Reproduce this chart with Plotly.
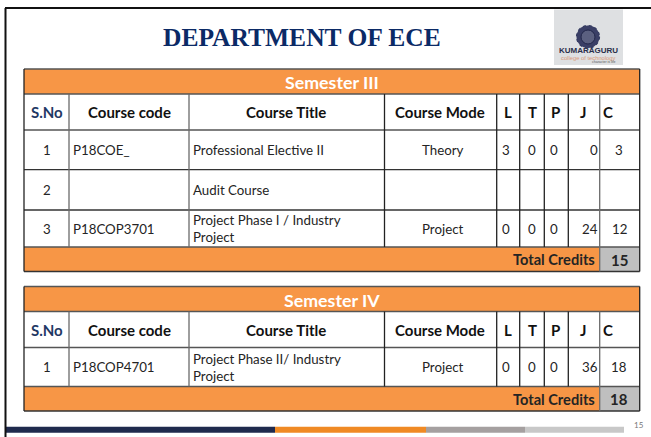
import plotly.graph_objects as go

TITLE = "DEPARTMENT OF ECE"
HEADERS = ["S.No", "Course code", "Course Title", "Course Mode", "L", "T", "P", "J", "C"]
SEM3_NAME = "Semester III"
SEM3_SNO = ["1", "2", "3"]
SEM3_CODE = ["P18COE_", "", "P18COP3701"]
SEM3_TITLE = ["Professional Elective II", "Audit Course", "Project Phase I / Industry<br>Project"]
SEM3_MODE = ["Theory", "", "Project"]
SEM3_L = ["3", "", "0"]
SEM3_T = ["0", "", "0"]
SEM3_P = ["0", "", "0"]
SEM3_J = ["0", "", "24"]
SEM3_C = ["3", "", "12"]
SEM3_TOTAL = "15"
SEM4_NAME = "Semester IV"
SEM4_SNO = ["1"]
SEM4_CODE = ["P18COP4701"]
SEM4_TITLE = ["Project Phase II/ Industry<br>Project"]
SEM4_MODE = ["Project"]
SEM4_L = ["0"]
SEM4_T = ["0"]
SEM4_P = ["0"]
SEM4_J = ["36"]
SEM4_C = ["18"]
SEM4_TOTAL = "18"
TOTAL_LABEL = "Total Credits"

ORANGE = "#F79646"
BODY = "Lato, Carlito, Calibri, sans-serif"
COLS = [24, 69, 189, 384.5, 496.7, 519.7, 544.3, 568.3, 599.7, 639.7]
GREY_COLS = {69, 189, 599.7}
HEAD_X = [46.5, 129, 286, 440, 508, 532, 555.6, 583, 608]

shapes, ann = [], []


def rect(x0, y0, x1, y1, fill, line=None, w=0):
    shapes.append(dict(type="rect", x0=x0, y0=y0, x1=x1, y1=y1, fillcolor=fill,
                       line=dict(color=line or fill, width=w), layer="below"))


def hline(y, x0, x1, c="#222222", w=1.3):
    shapes.append(dict(type="line", x0=x0, x1=x1, y0=y, y1=y, line=dict(color=c, width=w)))


def vline(x, y0, y1, c="#222222", w=1.3):
    shapes.append(dict(type="line", x0=x, x1=x, y0=y0, y1=y1, line=dict(color=c, width=w)))


def text(x, y, s, size=13.3, color="#242424", bold=False, anchor="center", family=BODY):
    if not s:
        return
    ann.append(dict(x=x, y=y, text=f"<b>{s}</b>" if bold else s, showarrow=False, xanchor=anchor,
                    yanchor="middle", align="left" if anchor == "left" else "center",
                    font=dict(family=family, size=size, color=color), xshift=0, yshift=0,
                    borderpad=0, borderwidth=0))


def table(top, name, rows_y, sno, code, ctitle, mode, l, t, p, j, c, total):
    band, head = top + 25, top + 61
    bottom_rows = rows_y[-1]
    foot = bottom_rows + 24.5
    rect(COLS[0], top, COLS[-1], band, ORANGE)
    rect(COLS[0], bottom_rows, COLS[-2], foot, ORANGE)
    rect(COLS[-2], bottom_rows, COLS[-1], foot, "#BFBFBF")
    text(332, top + 13, name, size=17.8, color="white", bold=True)
    for h, x in zip(HEADERS, HEAD_X):
        text(x, band + 18, h, size=15, bold=True, color="#1F3864" if h == "S.No" else "#111111")
    ys = [head] + rows_y
    for i in range(len(sno)):
        yc = (ys[i] + ys[i + 1]) / 2
        text(46.5, yc, sno[i])
        text(73, yc, code[i], anchor="left")
        text(193, yc, ctitle[i], anchor="left")
        text(442.5, yc, mode[i])
        text(505.7, yc, l[i])
        text(532, yc, t[i])
        text(553.7, yc, p[i])
        text(598, yc, j[i], anchor="right")
        text(619, yc, c[i])
    text(595, bottom_rows + 12.5, TOTAL_LABEL, size=14.6, bold=True)
    ann[-1].update(xanchor="right")
    text(619, bottom_rows + 12.5, total, size=15, bold=True)
    for y in [top, band, head] + rows_y + [foot]:
        hline(y, COLS[0], COLS[-1], c="#555555" if y in (top, band, head) or y == rows_y[-1] else "#333333")
    for x in COLS:
        y1 = foot if x in (COLS[0], COLS[-2], COLS[-1]) else bottom_rows
        vline(x, top if x in (COLS[0], COLS[-1]) else band, y1, c="#6a6a6a" if x in GREY_COLS else "#222222")


# slide frame
hline(8, 5, 651, c="#111111", w=2)
vline(5.5, 8, 437, c="#111111", w=2)

# footer bar
rect(6, 426.7, 275, 432.7, "#1F2A4D")
rect(275, 426.7, 426, 432.7, "#F08A24")
rect(426, 426.7, 525, 432.7, "#A5A0A0")
rect(525, 426.7, 624, 432.7, "#C8C8C8")
text(639, 425, "15", size=8, color="#777777")

# title
text(302, 37, TITLE, size=25.5, color="#0B2A66", bold=True, family="Liberation Serif, serif")

# logo
rect(554, 9.5, 623, 65, "#DEE0E2")
shapes.append(dict(type="circle", x0=576.5, x1=599.5, y0=25.5, y1=48, fillcolor="#3A3F66",
                   line=dict(color="#333A60", width=1.2, dash="dot")))
shapes.append(dict(type="circle", x0=581, x1=595, y0=30, y1=44, fillcolor="#5B6080",
                   line=dict(color="#22274A", width=1)))
rect(584, 33, 592, 40, "#D8D9DE", "#22274A", 0.8)
text(588.5, 50.5, "KUMARAGURU", size=8, color="#2A2F4A", bold=True, family="Liberation Sans, sans-serif")
text(588.5, 57.5, "college of technology", size=5.8, color="#D99A7A", family="Liberation Sans, sans-serif")
text(604, 62, "character is life", size=3.5, color="#555555", family="Liberation Sans, sans-serif")

table(69, SEM3_NAME, [169.7, 210, 247], SEM3_SNO, SEM3_CODE, SEM3_TITLE, SEM3_MODE,
      SEM3_L, SEM3_T, SEM3_P, SEM3_J, SEM3_C, SEM3_TOTAL)
table(286.5, SEM4_NAME, [386.5], SEM4_SNO, SEM4_CODE, SEM4_TITLE, SEM4_MODE,
      SEM4_L, SEM4_T, SEM4_P, SEM4_J, SEM4_C, SEM4_TOTAL)

fig = go.Figure()
fig.update_layout(
    width=651, height=437, margin=dict(l=0, r=0, t=0, b=0),
    paper_bgcolor="white", plot_bgcolor="white", showlegend=False,
    xaxis=dict(range=[0, 651], visible=False, fixedrange=True),
    yaxis=dict(range=[437, 0], visible=False, fixedrange=True),
    shapes=shapes, annotations=ann,
)
fig.write_html("out.html", config={"displayModeBar": False},
               post_script="document.body.style.margin='0';document.documentElement.style.overflow='hidden';")
